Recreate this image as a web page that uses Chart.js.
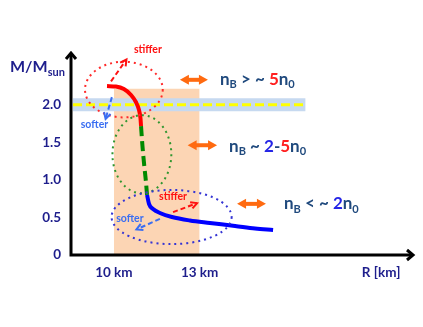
<!DOCTYPE html>
<html>
<head>
<meta charset="utf-8">
<script src="https://cdn.jsdelivr.net/npm/chart.js@4.4.0/dist/chart.umd.min.js"></script>
<style>
  html, body { margin: 0; padding: 0; background: #fff; }
  canvas { display: block; }
</style>
</head>
<body>
<canvas id="mr-chart" width="423" height="327"></canvas>
<script>
// Axis ticks
const yTicks = [0, 0.5, 1.0, 1.5, 2.0];
const yTickLabels = ["0", "0.5", "1.0", "1.5", "2.0"];
const xTicks = [10, 13];
const xTickLabels = ["10 km", "13 km"];

// Mass-radius curve (R in km, M in solar masses), three pieces
const stiffR = [9.76, 10.07, 10.35, 10.60, 10.77, 10.88, 10.93, 10.95];
const stiffM = [2.247, 2.241, 2.207, 2.128, 2.035, 1.928, 1.822, 1.715];
const midR = [10.95, 11.00, 11.06, 11.12, 11.16];
const midM = [1.715, 1.45, 1.20, 0.98, 0.80];
const softR = [11.16, 11.23, 11.37, 11.61, 12.03, 12.66, 13.36, 14.24, 14.94, 15.57];
const softM = [0.80, 0.678, 0.612, 0.559, 0.505, 0.459, 0.426, 0.386, 0.352, 0.332];

// Typical radius range and the 2 Msun observation
const radiusRange = [10, 13];
const radiusRangeTop = 2.21;
const maxMassR = [8.57, 16.7];
const maxMass = 2.0;

// Density regions (dotted ellipses): centre and half sizes
const regionR = [10.35, 10.98, 12.02];
const regionM = [2.20, 1.34, 0.505];
const regionHalfR = [1.36, 1.03, 2.10];
const regionHalfM = [0.37, 0.52, 0.36];

const navy = "#1e1e8c";
const slate = "#1f497d";
const font = "Lato";

function pts(xs, ys) {
  return xs.map((v, i) => ({ x: v, y: ys[i] }));
}

// Text, arrows, ellipses drawn on top, placed in data units
const overlay = {
  id: "overlay",
  afterDatasetsDraw(chart) {
    const { ctx, chartArea: a, scales: { x, y } } = chart;
    const px = v => x.getPixelForValue(v);
    const py = v => y.getPixelForValue(v);
    ctx.save();

    // dotted ellipses
    const ellColors = ["#ff2a2a", "#2f962f", "#3434d4"];
    ctx.lineWidth = 2;
    ctx.setLineDash([2, 4]);
    regionR.forEach((r, i) => {
      const cx = px(r), cy = py(regionM[i]);
      const rx = px(r + regionHalfR[i]) - cx;
      const ry = cy - py(regionM[i] + regionHalfM[i]);
      ctx.strokeStyle = ellColors[i];
      ctx.beginPath();
      ctx.ellipse(cx, cy, rx, ry, 0, 0, Math.PI * 2);
      ctx.stroke();
    });

    // axes with arrow heads
    ctx.setLineDash([]);
    ctx.strokeStyle = "#000";
    ctx.lineWidth = 3;
    ctx.lineCap = "butt";
    ctx.beginPath();
    ctx.moveTo(a.left, a.top + 1);
    ctx.lineTo(a.left, a.bottom + 1.5);
    ctx.moveTo(a.left - 1.5, a.bottom);
    ctx.lineTo(a.right - 1, a.bottom);
    ctx.stroke();
    ctx.lineJoin = "miter";
    ctx.beginPath();
    ctx.moveTo(a.left - 5, a.top + 7);
    ctx.lineTo(a.left, a.top + 1);
    ctx.lineTo(a.left + 5, a.top + 7);
    ctx.moveTo(a.right - 7, a.bottom - 5);
    ctx.lineTo(a.right - 1, a.bottom);
    ctx.lineTo(a.right - 7, a.bottom + 5);
    ctx.stroke();

    // stiffer / softer dashed arrows
    const red = "#ff1010", blue = "#3a6ef2";
    const moves = [
      [9.90, 2.31, 10.44, 2.60, red],
      [9.93, 2.10, 9.71, 1.81, blue],
      [12.07, 0.57, 12.91, 0.69, red],
      [11.61, 0.48, 10.79, 0.34, blue]
    ];
    moves.forEach(([r1, m1, r2, m2, c]) => {
      const x1 = px(r1), y1 = py(m1), x2 = px(r2), y2 = py(m2);
      const ang = Math.atan2(y2 - y1, x2 - x1);
      ctx.strokeStyle = c;
      ctx.lineWidth = 2;
      ctx.setLineDash([5, 3]);
      ctx.beginPath();
      ctx.moveTo(x1, y1);
      ctx.lineTo(x2, y2);
      ctx.stroke();
      ctx.setLineDash([]);
      ctx.beginPath();
      ctx.moveTo(x2 - 7 * Math.cos(ang - 0.5), y2 - 7 * Math.sin(ang - 0.5));
      ctx.lineTo(x2, y2);
      ctx.lineTo(x2 - 7 * Math.cos(ang + 0.5), y2 - 7 * Math.sin(ang + 0.5));
      ctx.stroke();
    });
    ctx.font = `bold 10.5px ${font}`;
    ctx.textAlign = "center";
    ctx.textBaseline = "middle";
    [["stiffer", 11.19, 2.73, red], ["softer", 9.32, 1.73, blue],
     ["stiffer", 12.07, 0.77, red], ["softer", 10.56, 0.49, blue]].forEach(([t, r, m, c]) => {
      ctx.fillStyle = c;
      ctx.fillText(t, px(r), py(m));
    });

    // orange double arrows
    ctx.strokeStyle = ctx.fillStyle = "#ff6a10";
    [[12.31, 13.29, 2.33], [12.58, 13.61, 1.46], [14.31, 15.32, 0.68]].forEach(([r1, r2, m]) => {
      const x1 = px(r1), x2 = px(r2), yy = py(m);
      ctx.lineWidth = 4;
      ctx.beginPath();
      ctx.moveTo(x1 + 6, yy);
      ctx.lineTo(x2 - 6, yy);
      ctx.stroke();
      ctx.beginPath();
      ctx.moveTo(x1, yy); ctx.lineTo(x1 + 9, yy - 5); ctx.lineTo(x1 + 9, yy + 5); ctx.closePath();
      ctx.moveTo(x2, yy); ctx.lineTo(x2 - 9, yy - 5); ctx.lineTo(x2 - 9, yy + 5); ctx.closePath();
      ctx.fill();
    });

    // density labels
    const rich = (parts, left, mid, size) => {
      let cx = left;
      ctx.textAlign = "left";
      ctx.textBaseline = "middle";
      parts.forEach(p => {
        const s = p.sub ? size * 0.65 : size;
        ctx.font = `bold ${s}px ${font}`;
        ctx.fillStyle = p.c || slate;
        ctx.fillText(p.t, cx, p.sub ? mid + size * 0.3 : mid);
        cx += ctx.measureText(p.t).width;
      });
    };
    rich([{ t: "n" }, { t: "B", sub: 1 }, { t: " > ~ " }, { t: "5", c: "#ff2020" }, { t: "n" }, { t: "0", sub: 1 }],
      px(13.71), py(2.34), 17);
    rich([{ t: "n" }, { t: "B", sub: 1 }, { t: " ~ " }, { t: "2", c: "#2424e6" }, { t: "-" }, { t: "5", c: "#ff2020" }, { t: "n" }, { t: "0", sub: 1 }],
      px(14.03), py(1.44), 17);
    rich([{ t: "n" }, { t: "B", sub: 1 }, { t: " < ~ " }, { t: "2", c: "#2424e6" }, { t: "n" }, { t: "0", sub: 1 }],
      px(15.95), py(0.68), 17);

    // axis titles
    ctx.fillStyle = navy;
    ctx.font = `bold 16px ${font}`;
    ctx.textAlign = "left";
    const yt = py(2.5);
    ctx.fillText("M/M", 10, yt);
    const w = ctx.measureText("M/M").width;
    ctx.font = `bold 11px ${font}`;
    ctx.fillText("sun", 10 + w, yt + 5);
    ctx.font = `bold 13.5px ${font}`;
    ctx.textAlign = "center";
    ctx.fillText("R [km]", px(19.35), a.bottom + 18);

    ctx.restore();
  }
};

const ctx = document.getElementById("mr-chart").getContext("2d");
new Chart(ctx, {
  type: "line",
  data: {
    datasets: [
      {
        data: pts(radiusRange, [radiusRangeTop, radiusRangeTop]),
        fill: "origin",
        backgroundColor: "#fcd5b4",
        borderWidth: 0,
        pointRadius: 0,
        order: 6
      },
      {
        data: pts(maxMassR, [maxMass, maxMass]),
        borderColor: "#c6d9f0",
        borderWidth: 13,
        borderCapStyle: "butt",
        pointRadius: 0,
        order: 5
      },
      {
        data: pts(maxMassR, [maxMass, maxMass]),
        borderColor: "#ffff00",
        borderWidth: 3,
        borderDash: [9, 4],
        pointRadius: 0,
        order: 4
      },
      {
        data: pts(stiffR, stiffM),
        borderColor: "#ff0000",
        borderWidth: 4,
        cubicInterpolationMode: "monotone",
        pointRadius: 0,
        order: 2
      },
      {
        data: pts(midR, midM),
        borderColor: "#008a00",
        borderWidth: 4,
        borderDash: [10, 5],
        cubicInterpolationMode: "monotone",
        pointRadius: 0,
        order: 3
      },
      {
        data: pts(softR, softM),
        borderColor: "#0000ff",
        borderWidth: 4,
        cubicInterpolationMode: "monotone",
        pointRadius: 0,
        order: 1
      }
    ]
  },
  options: {
    responsive: false,
    animation: false,
    layout: { padding: { top: 52, right: 9, left: 0, bottom: 0 } },
    plugins: {
      legend: { display: false },
      tooltip: { enabled: false }
    },
    scales: {
      x: {
        type: "linear",
        min: 8.5,
        max: 20.5,
        grid: { display: false, drawTicks: false },
        border: { display: false },
        afterBuildTicks: s => { s.ticks = xTicks.map(v => ({ value: v })); },
        afterFit: s => { s.height = 72; },
        ticks: {
          autoSkip: false,
          maxRotation: 0,
          padding: 10,
          color: navy,
          font: { family: font, size: 13.5, weight: "bold" },
          callback: (v, i) => xTickLabels[i]
        }
      },
      y: {
        min: 0,
        max: 2.7,
        grid: { display: false, drawTicks: false },
        border: { display: false },
        afterBuildTicks: s => { s.ticks = yTicks.map(v => ({ value: v })); },
        afterFit: s => { s.width = 71; },
        ticks: {
          autoSkip: false,
          padding: 10,
          color: navy,
          font: { family: font, size: 13.5, weight: "bold" },
          callback: (v, i) => yTickLabels[i]
        }
      }
    }
  },
  plugins: [overlay]
});
</script>
</body>
</html>
